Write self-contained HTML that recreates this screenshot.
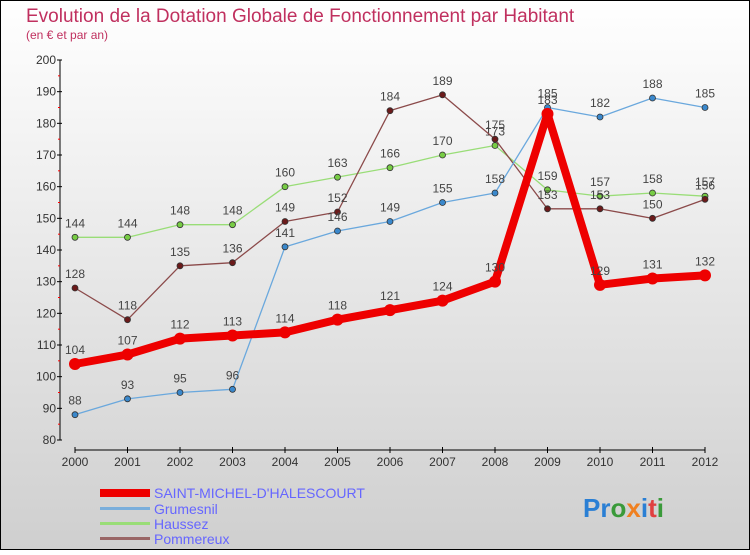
<!DOCTYPE html>
<html><head><meta charset="utf-8"><style>
html,body{margin:0;padding:0}
body{width:750px;height:550px;overflow:hidden;font-family:"Liberation Sans",sans-serif}
</style></head><body>
<svg id="chart" width="750" height="550" xmlns="http://www.w3.org/2000/svg" font-family="Liberation Sans, sans-serif">
<defs><linearGradient id="bg" x1="0" y1="0" x2="0" y2="1"><stop offset="0" stop-color="#ffffff"/><stop offset="1" stop-color="#cfcfcf"/></linearGradient></defs>
<rect x="0.5" y="0.5" width="749" height="549" fill="url(#bg)" stroke="#000"/>
<text x="26" y="22" font-size="19" fill="#c0305f">Evolution de la Dotation Globale de Fonctionnement par Habitant</text>
<text x="26" y="39" font-size="12" fill="#c0305f">(en € et par an)</text>
<g id="axes"></g>
<g id="series"></g>
<g id="legend">
<rect x="100" y="489" width="50" height="8" fill="#e00"/>
<text x="154" y="498" font-size="14" fill="#6666ff">SAINT-MICHEL-D'HALESCOURT</text>
<rect x="100" y="507" width="50" height="3" fill="#7aaedb"/>
<text x="154" y="514" font-size="14" fill="#6666ff">Grumesnil</text>
<rect x="100" y="522" width="50" height="3" fill="#99dd77"/>
<text x="154" y="529" font-size="14" fill="#6666ff">Haussez</text>
<rect x="100" y="537" width="50" height="3" fill="#996666"/>
<text x="154" y="544" font-size="14" fill="#6666ff">Pommereux</text>
</g>
<text x="583" y="517" font-size="26" font-weight="bold"><tspan fill="#2a7fd4">Pr</tspan><tspan fill="#3a9a3a">o</tspan><tspan fill="#f08020">x</tspan><tspan fill="#2a7fd4">i</tspan><tspan fill="#e04040">t</tspan><tspan fill="#3a9a3a">i</tspan></text>
</svg>
<script>
const years = [2000,2001,2002,2003,2004,2005,2006,2007,2008,2009,2010,2011,2012];
const yTicks = [80,90,100,110,120,130,140,150,160,170,180,190,200];
const smhValues = [104,107,112,113,114,118,121,124,130,183,129,131,132];
const grumesnilValues = [88,93,95,96,141,146,149,155,158,185,182,188,185];
const haussezValues = [144,144,148,148,160,163,166,170,173,159,157,158,157];
const pommereuxValues = [128,118,135,136,149,152,184,189,175,153,153,150,156];

const NS = "http://www.w3.org/2000/svg";
const x0 = 75, x1 = 705, yTop = 60, yBot = 440, vMin = 80, vMax = 200;
function xScale(i){ return x0 + (x1 - x0) * i / (years.length - 1); }
function yScale(v){ return yBot - (v - vMin) / (vMax - vMin) * (yBot - yTop); }
function mk(tag, attrs, parent){ const e = document.createElementNS(NS, tag); for (const k in attrs) e.setAttribute(k, attrs[k]); parent.appendChild(e); return e; }

const axes = document.getElementById('axes');
const yAxis = mk('line', {x1:60, y1:yTop, x2:60, y2:yBot, stroke:'#000'}, axes);


yTicks.forEach((t, i) => {
  const y = yScale(t);
  const tk = mk('line', {x1:57, y1:y, x2:62, y2:y, stroke:'#000'}, axes);
  
  
  const lb = mk('text', {x:56, y:y + 4, 'text-anchor':'end', 'font-size':12, fill:'#333'}, axes);
  lb.textContent = t;
  
  
  if (i < yTicks.length - 1) {
    const m = mk('line', {x1:58, y1:y - (yBot - yTop) / 24, x2:60, y2:y - (yBot - yTop) / 24, stroke:'#f00'}, axes);
    
    
  }
});
const xAxis = mk('line', {x1:x0, y1:450, x2:x1, y2:450, stroke:'#000'}, axes);


years.forEach((yr, i) => {
  const x = xScale(i);
  const tk = mk('line', {x1:x, y1:447, x2:x, y2:453, stroke:'#000'}, axes);
  
  
  const lb = mk('text', {x:x, y:466, 'text-anchor':'middle', 'font-size':12, fill:'#333'}, axes);
  lb.textContent = yr;
  
  
});

const seriesG = document.getElementById('series');
function drawSeries(vals, color, width, r, dot, name) {
  const g = mk('g', {}, seriesG);
  
  
  const pts = vals.map((v, i) => xScale(i) + ',' + yScale(v)).join(' ');
  const pl = mk('polyline', {points:pts, fill:'none', stroke:color, 'stroke-width':width, 'stroke-linejoin':'round'}, g);
  
  
  vals.forEach((v, i) => {
    const c = mk('circle', {cx:xScale(i), cy:yScale(v), r:r, fill:dot, stroke:'#333', 'stroke-width':r > 4 ? 0 : 0.8}, g);
    
    
    const t = mk('text', {x:xScale(i), y:yScale(v) - 10, 'text-anchor':'middle', 'font-size':12, fill:'#444'}, g);
    t.textContent = v;
    
    
  });
}
drawSeries(haussezValues, '#99dd77', 1.3, 3, '#77cc44', 'haussez');
drawSeries(pommereuxValues, '#8b4a4a', 1.3, 3, '#6b1a1a', 'pommereux');
drawSeries(grumesnilValues, '#6aa8dd', 1.3, 3, '#3a88cc', 'grumesnil');
drawSeries(smhValues, '#ee0000', 8, 6, '#ee0000', 'saint-michel');
</script>
</body></html>
